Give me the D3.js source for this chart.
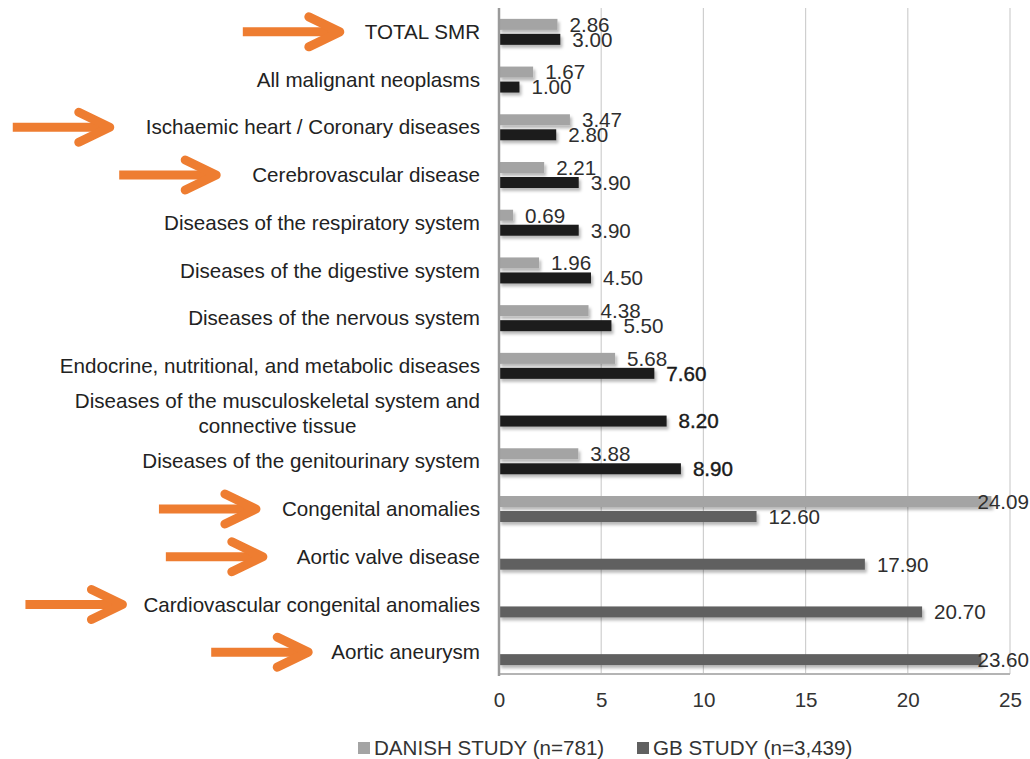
<!DOCTYPE html>
<html>
<head>
<meta charset="utf-8">
<script src="https://cdnjs.cloudflare.com/ajax/libs/d3/7.8.5/d3.min.js"></script>
<style>
  html, body { margin: 0; padding: 0; background: #fff; }
  svg { display: block; font-family: "Liberation Sans", Arial, Helvetica, sans-serif; }
</style>
</head>
<body>
<svg id="chart" width="1030" height="759"></svg>
<script>
// Causes of death, top to bottom
const categories = [
  "TOTAL SMR",
  "All malignant neoplasms",
  "Ischaemic heart / Coronary diseases",
  "Cerebrovascular disease",
  "Diseases of the respiratory system",
  "Diseases of the digestive system",
  "Diseases of the nervous system",
  "Endocrine, nutritional, and metabolic diseases",
  "Diseases of the musculoskeletal system and connective tissue",
  "Diseases of the genitourinary system",
  "Congenital anomalies",
  "Aortic valve disease",
  "Cardiovascular congenital anomalies",
  "Aortic aneurysm"
];

// Standardised mortality ratios per study (null = not reported)
const danishValues = [2.86, 1.67, 3.47, 2.21, 0.69, 1.96, 4.38, 5.68, null, 3.88, 24.09, null, null, null];
const gbValues     = [3.00, 1.00, 2.80, 3.90, 3.90, 4.50, 5.50, 7.60, 8.20, 8.90, 12.60, 17.90, 20.70, 23.60];

const seriesNames = ["DANISH STUDY (n=781)", "GB STUDY (n=3,439)"];
const xTicks = [0, 5, 10, 15, 20, 25];

// Causes flagged with an arrow
const flagged = [
  "TOTAL SMR",
  "Ischaemic heart / Coronary diseases",
  "Cerebrovascular disease",
  "Congenital anomalies",
  "Aortic valve disease",
  "Cardiovascular congenital anomalies",
  "Aortic aneurysm"
];

// ---- layout & styling ----
const W = 1030, H = 759;
const plot = { left: 499, right: 1010, top: 8, bottom: 676 };
const labelRight = 480;
const fontSize = 20.6;
const colDanish = "#a4a4a4";
const colGBDark = "#1f1f1f";
const colGBGrey = "#606060";
const greyFrom = 10;           // GB bars from "Congenital anomalies" down are drawn in grey
const boldGB = new Set([7, 8, 9]);
const orange = "#ee7d31";

const svg = d3.select("#chart");

const defs = svg.append("defs");
const f = defs.append("filter").attr("id", "shadow")
  .attr("x", "-5%").attr("y", "-50%").attr("width", "115%").attr("height", "250%");
f.append("feDropShadow").attr("dx", 2).attr("dy", 3).attr("stdDeviation", 1.8)
  .attr("flood-color", "#000").attr("flood-opacity", 0.28);

const x = d3.scaleLinear().domain([0, 25]).range([plot.left, plot.right]);
const y = d3.scaleBand().domain(categories).range([plot.top, plot.bottom]).padding(0);
const mid = y.bandwidth() / 2;
const ySub = d3.scaleBand().domain(["danish", "gb"])
  .range([mid - 13, mid + 13]).paddingInner(4 / 15).paddingOuter(0);

// Vertical gridlines
svg.append("g")
  .selectAll("line").data(xTicks.filter(t => t > 0)).join("line")
  .attr("x1", d => x(d)).attr("x2", d => x(d))
  .attr("y1", plot.top).attr("y2", plot.bottom - 2)
  .attr("stroke", "#cfcfcf").attr("stroke-width", 1.2);

// Bottom frame line
svg.append("line")
  .attr("x1", plot.left).attr("x2", plot.right)
  .attr("y1", plot.bottom - 2).attr("y2", plot.bottom - 2)
  .attr("stroke", "#b4b4b4").attr("stroke-width", 2);

// X axis tick labels
const xAxis = svg.append("g")
  .attr("transform", `translate(0,${plot.bottom})`)
  .call(d3.axisBottom(x).tickValues(xTicks).tickSize(0).tickPadding(16).tickFormat(d3.format("d")));
xAxis.select(".domain").remove();
xAxis.selectAll("text").attr("font-size", fontSize).attr("fill", "#333")
  .attr("font-family", "Liberation Sans, Arial, sans-serif");

// Rows
const rows = categories.map((c, i) => ({ cat: c, i, danish: danishValues[i], gb: gbValues[i] }));

const bars = svg.append("g").attr("filter", "url(#shadow)");
bars.selectAll("rect.danish").data(rows.filter(d => d.danish != null)).join("rect")
  .attr("class", "danish")
  .attr("x", x(0)).attr("y", d => y(d.cat) + ySub("danish"))
  .attr("width", d => x(d.danish) - x(0)).attr("height", ySub.bandwidth())
  .attr("fill", colDanish);
bars.selectAll("rect.gb").data(rows.filter(d => d.gb != null)).join("rect")
  .attr("class", "gb")
  .attr("x", x(0)).attr("y", d => y(d.cat) + ySub("gb"))
  .attr("width", d => x(d.gb) - x(0)).attr("height", ySub.bandwidth())
  .attr("fill", d => d.i >= greyFrom ? colGBGrey : colGBDark);

// Left axis line
svg.append("line")
  .attr("x1", plot.left).attr("x2", plot.left)
  .attr("y1", plot.top).attr("y2", plot.bottom)
  .attr("stroke", "#9a9a9a").attr("stroke-width", 2.5);

// Value labels, kept inside the chart on the right
const maxRight = 1029;
function valueLabel(sel, key) {
  sel.each(function (d) {
    const t = d3.select(this);
    const w = this.getComputedTextLength();
    const left = Math.min(x(d[key]) + 12, maxRight - w);
    t.attr("x", left);
  });
}
const vl = svg.append("g").attr("font-size", fontSize).attr("fill", "#2e2e2e");
vl.selectAll("text.vd").data(rows.filter(d => d.danish != null)).join("text")
  .attr("class", "vd")
  .attr("y", d => y(d.cat) + ySub("danish") + ySub.bandwidth() / 2)
  .attr("dy", "0.36em")
  .text(d => d.danish.toFixed(2))
  .call(valueLabel, "danish");
vl.selectAll("text.vg").data(rows.filter(d => d.gb != null)).join("text")
  .attr("class", "vg")
  .attr("y", d => y(d.cat) + ySub("gb") + ySub.bandwidth() / 2)
  .attr("dy", "0.36em")
  .attr("stroke", d => boldGB.has(d.i) ? "#1a1a1a" : null)
  .attr("stroke-width", d => boldGB.has(d.i) ? 0.4 : null)
  .attr("fill", d => boldGB.has(d.i) ? "#1a1a1a" : "#2e2e2e")
  .text(d => d.gb.toFixed(2))
  .call(valueLabel, "gb");

// Category labels (wrapped, right-aligned block, centred lines)
const catG = svg.append("g").attr("font-size", fontSize).attr("fill", "#222");
const wrapWidth = 435;
const labelLeft = {};
categories.forEach(cat => {
  const cy = y(cat) + mid;
  const t = catG.append("text").attr("text-anchor", "middle");
  // greedy word wrap
  const words = cat.split(" ");
  const probe = catG.append("text");
  const lines = [];
  let line = [];
  words.forEach(w => {
    const trial = line.concat(w).join(" ");
    probe.text(trial);
    if (probe.node().getComputedTextLength() > wrapWidth && line.length) {
      lines.push(line.join(" "));
      line = [w];
    } else line.push(w);
  });
  lines.push(line.join(" "));
  let maxW = 0;
  lines.forEach(l => { probe.text(l); maxW = Math.max(maxW, probe.node().getComputedTextLength()); });
  probe.remove();
  const cx = labelRight - maxW / 2;
  const lh = 25;
  lines.forEach((l, k) => {
    t.append("tspan").attr("x", cx)
      .attr("y", cy + (k - (lines.length - 1) / 2) * lh)
      .attr("dy", "0.35em").text(l);
  });
  labelLeft[cat] = labelRight - maxW;
});

// Orange arrows pointing at flagged causes
const arrowGap = {
  "TOTAL SMR": 25,
  "Ischaemic heart / Coronary diseases": 36,
  "Cerebrovascular disease": 36,
  "Congenital anomalies": 26,
  "Aortic valve disease": 34,
  "Cardiovascular congenital anomalies": 21,
  "Aortic aneurysm": 23
};
const arrows = svg.append("g")
  .attr("stroke", orange).attr("stroke-width", 9)
  .attr("stroke-linecap", "round").attr("stroke-linejoin", "round").attr("fill", "none");
flagged.forEach(cat => {
  const tipX = labelLeft[cat] - arrowGap[cat];
  const cy = y(cat) + mid;
  arrows.append("line").attr("x1", tipX - 97).attr("x2", tipX - 4).attr("y1", cy).attr("y2", cy)
    .attr("stroke-linecap", "butt");
  arrows.append("path")
    .attr("d", `M${tipX - 31},${cy - 15} L${tipX},${cy} L${tipX - 31},${cy + 15}`);
});

// Legend
const legend = svg.append("g").attr("font-size", fontSize).attr("fill", "#333");
const legendItems = [
  { name: seriesNames[0], color: colDanish, x: 358 },
  { name: seriesNames[1], color: colGBGrey, x: 637 }
];
legendItems.forEach(it => {
  legend.append("rect").attr("x", it.x).attr("y", 742).attr("width", 12).attr("height", 12).attr("fill", it.color);
  legend.append("text").attr("x", it.x + 16).attr("y", 748).attr("dy", "0.36em").text(it.name);
});
</script>
</body>
</html>
